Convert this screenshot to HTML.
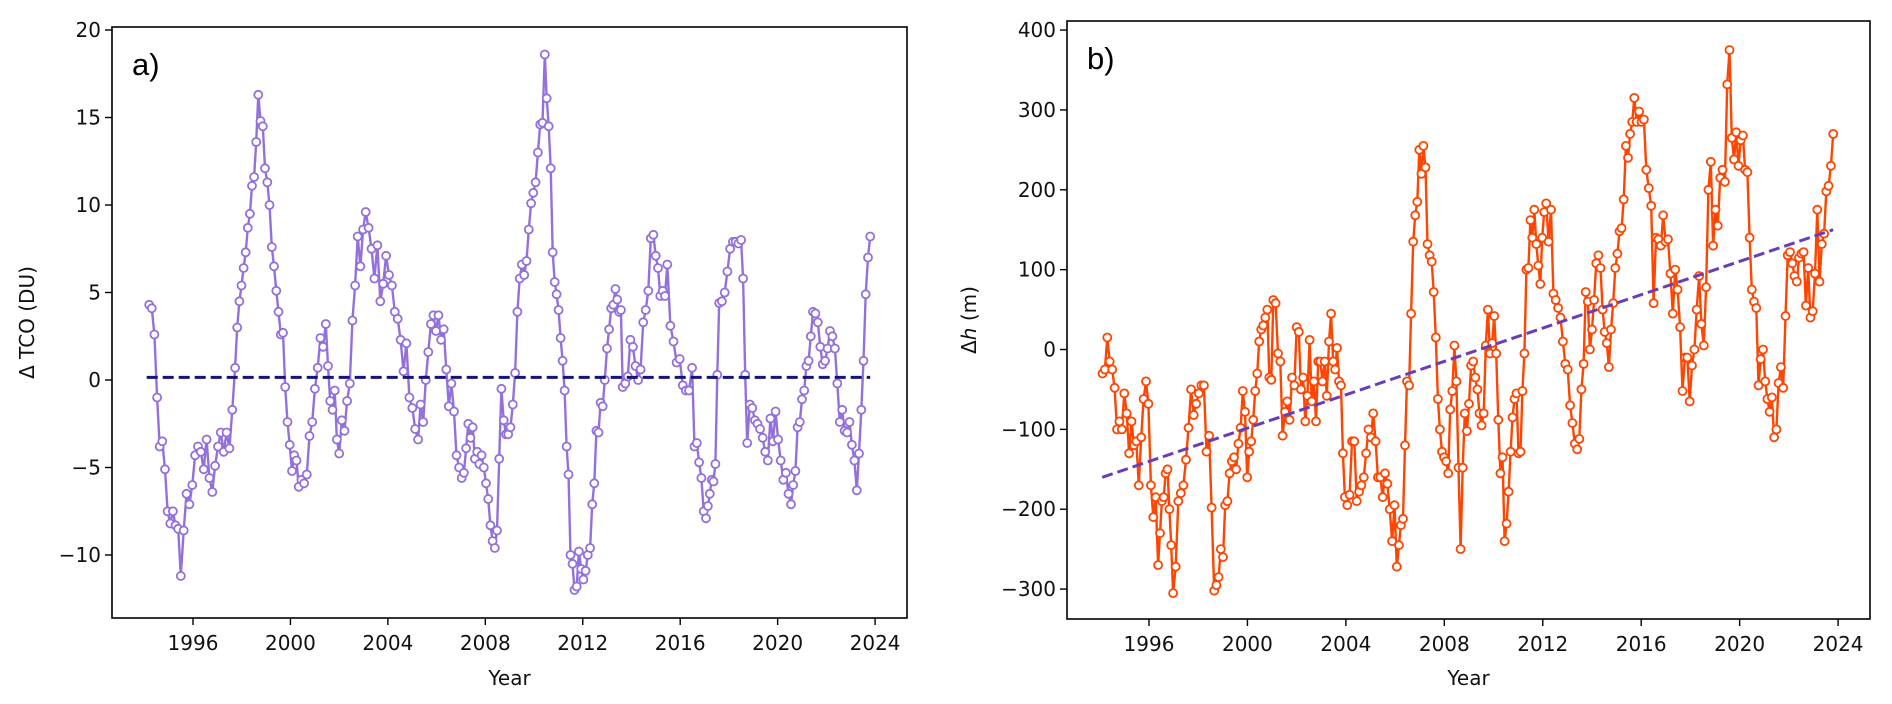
<!DOCTYPE html>
<html><head><meta charset="utf-8"><style>
html,body{margin:0;padding:0;background:#fff;}
svg{display:block;font-family:"DejaVu Sans","Liberation Sans",sans-serif;}
</style></head><body>
<svg id="fig" width="1892" height="704" viewBox="0 0 1892 704"></svg>
<script>
// ---- Panel a data (ΔTCO, DU) ----
const tcoValues = [4.3,4.1,2.6,-1,-3.8,-3.5,-5.1,-7.5,-8.2,-7.5,-8.3,-8.5,-11.2,
-8.6,-6.5,-7.1,-6,-4.3,-3.8,-4.1,-5.1,-3.4,-5.6,-6.4,-4.9,-3.8,-3.0,-4.1,-3.0,-3.9,-1.7,0.7,3.0,4.5,5.4,6.4,7.3,8.7,9.5,11.1,11.6,13.6,16.3,
14.8,14.5,12.1,11.3,10.0,7.6,6.5,5.1,3.9,2.6,2.7,-0.4,-2.4,-3.7,-5.2,-4.3,-4.6,-6.1,-5.7,-5.9,-5.4,-3.2,-2.4,-0.5,0.7,2.4,1.9,3.2,0.8,-1.2,-1.7,-0.6,-3.4,-4.2,-2.3,-2.9,-1.2,-0.2,3.4,5.4,8.2,6.5,8.6,9.6,
8.7,7.5,5.8,7.7,4.5,5.5,7.1,6.0,5.4,3.9,3.5,2.3,0.5,2.1,-1.0,-1.6,-2.8,-3.4,-1.4,-2.4,0.0,1.6,3.2,3.7,2.8,3.7,2.3,2.9,0.6,-1.5,-0.2,-1.8,-4.3,-5.0,-5.6,-5.3,-3.9,-2.5,-3.3,-2.7,-4.5,-4.1,-4.8,-4.3,-5.0,-5.9,-6.8,-8.3,-9.2,-9.6,-8.6,-4.5,-0.5,
-2.3,-3.1,-3.1,-2.7,-1.4,0.4,3.9,5.8,6.6,6.0,6.8,8.6,10.1,10.7,11.3,13.0,14.6,14.7,18.6,
16.1,14.5,12.1,7.3,5.6,4.9,4.0,2.4,1.1,-0.6,-3.8,-5.4,-10.0,-10.5,-12.0,-11.8,-9.8,-10.8,-11.4,-10.9,-10.0,-9.6,-7.1,-5.9,-2.9,-3.0,-1.3,-1.5,0.0,1.8,2.9,4.1,4.3,5.2,4.6,3.9,4.0,-0.4,-0.2,0.2,2.3,1.9,0.8,0.0,0.6,3.3,4.0,5.1,8.1,8.3,
7.1,6.4,4.8,5.1,4.8,6.6,3.1,2.2,1.0,1.2,-0.3,-0.6,-0.6,0.7,-3.8,-3.6,-4.7,-5.6,-7.5,-7.9,-7.2,-6.5,-5.7,-5.8,-4.8,0.3,4.4,4.5,5.0,6.2,7.5,7.9,7.9,7.8,8.0,5.8,0.3,-3.6,-1.4,-1.6,-2.3,-2.5,-2.8,-3.3,-4.1,-4.6,-2.2,-3.5,-1.8,-3.4,-4.6,-5.7,-5.3,-6.5,-7.1,-6.0,-5.2,-2.7,-2.4,-1.1,-0.6,0.8,1.1,2.5,3.9,3.8,3.3,1.9,0.9,1.1,1.8,2.8,2.5,1.8,-0.2,-2.4,-1.7,-2.9,-3.0,-2.4,-3.7,-4.6,-6.3,-4.2,-1.7,1.1,4.9,7.0,8.2];
// time anchors [point index, decimal year]
const tcoAnchors = [[0,1994.2],[12,1995.5],[31,1997.73],[42,1998.68],[60,2000.34],[70,2001.45],[76,2002.0],[86,2003.09],[104,2005.24],[112,2006.08],[121,2007.03],[136,2008.39],[139,2008.66],[158,2010.44],[173,2011.66],[180,2012.3],[192,2013.34],[196,2013.64],[208,2014.9],[214,2015.47],[222,2016.49],[228,2017.06],[235,2017.6],[243,2018.5],[246,2018.75],[263,2020.55],[273,2021.45],[291,2023.25],[297,2023.8]];
const tcoTrendYears = [1994.1, 2023.8];
const tcoTrendValues = [0.15, 0.15];
const tcoTicksY = [-10,-5,0,5,10,15,20];

// ---- Panel b data (Δh, m) ----
const dhValues = [-30,-25,15,-15,-25,-48,-100,-90,-100,-55,-80,-130,-90,-120,-115,-170,-110,-62,-40,-68,-170,-210,-185,-270,
-230,-190,-185,-155,-150,-200,-245,-305,-272,-190,-180,-170,-138,-98,-50,-82,-68,-55,-45,-45,-128,-108,-198,-302,
-295,-285,-250,-260,-195,-190,-155,-140,-135,-150,-118,-98,-52,-78,-160,-128,-115,-88,-52,-30,10,25,30,40,50,-35,-38,62,
58,-5,-15,-108,-78,-65,-88,-35,-45,28,22,-50,-35,-90,-58,12,-65,-40,-90,-15,-15,-40,-15,-58,10,45,-15,-25,2,-40,-45,-130,-185,
-195,-182,-115,-115,-190,-178,-170,-160,-130,-100,-110,-80,-115,-160,-160,-185,-155,-168,-200,-240,-195,-272,-245,-220,-212,-120,-40,-45,45,135,168,185,250,220,255,
228,132,118,110,72,15,-62,-100,-128,-135,-140,-155,-75,-52,5,-40,-148,-250,-148,-80,-102,-68,-20,-15,-35,-50,-80,-95,-80,5,50,
-5,8,42,-5,-88,-155,-135,-240,-218,-178,-128,-85,-62,-55,-130,-128,-52,-5,100,102,162,140,175,132,105,82,140,172,183,
135,175,70,62,52,40,10,-18,-25,-70,-92,-118,-125,-112,-50,-18,72,60,0,25,62,108,118,102,50,22,8,-22,25,58,102,120,148,152,188,255,240,270,285,315,
285,298,285,288,225,202,180,58,140,138,130,168,135,138,95,45,100,75,28,-52,-10,-10,-65,-20,0,50,92,32,5,78,200,235,130,175,155,215,225,210,332,375,
265,238,272,230,262,268,225,222,140,75,60,52,-45,-12,0,-40,-62,-78,-60,-110,-100,-42,-22,-48,42,118,122,108,92,85,115,120,122,55,102,40,48,95,175,85,132,145,198,205,230,270];
const dhAnchors = [[0,1994.11],[23,1996.37],[31,1996.98],[47,1998.65],[62,1999.99],[75,2001.05],[85,2002.0],[101,2003.4],[108,2003.96],[130,2006.07],[143,2007.15],[161,2008.66],[174,2009.77],[182,2010.45],[203,2012.14],[216,2013.4],[243,2015.72],[266,2017.97],[283,2019.59],[303,2021.4],[329,2023.8]];
const dhTrendYears = [1994.1, 2023.8];
const dhTrendValues = [-160, 150];
const dhTicksY = [-300,-200,-100,0,100,200,300,400];

const yearTicks = [1996,2000,2004,2008,2012,2016,2020,2024];

const NS = "http://www.w3.org/2000/svg";
const svg = document.getElementById('fig');
function mk(tag, attrs, parent){
  const e = document.createElementNS(NS, tag);
  for (const k in attrs) e.setAttribute(k, attrs[k]);
  (parent||svg).appendChild(e);
  return e;
}
function yearsFromAnchors(n, anchors){
  const out = [];
  for (let i=0;i<n;i++){
    let k=0;
    while (k < anchors.length-2 && i > anchors[k+1][0]) k++;
    const a=anchors[k], b=anchors[k+1];
    out.push(a[1] + (b[1]-a[1])*(i-a[0])/(b[0]-a[0]));
  }
  return out;
}

function panel(cfg){
  const g = mk('g', {});
  
  
  const xS = yr => cfg.x1996 + (yr-1996)*cfg.pxYear;
  const yS = v => cfg.y0 - v*cfg.pxUnit;
  const yrs = yearsFromAnchors(cfg.values.length, cfg.anchors);
  const pts = cfg.values.map((v,i)=> xS(yrs[i]).toFixed(1)+','+yS(v).toFixed(1)).join(' ');
  const line = mk('polyline', {points:pts, fill:'none', stroke:cfg.color, 'stroke-width':2.4, 'stroke-linejoin':'round'}, g);
  
  
  const mg = mk('g', {}, g);
  
  
  cfg.values.forEach((v,i)=>{
    const c = mk('circle', {cx:xS(yrs[i]).toFixed(1), cy:yS(v).toFixed(1), r:4, fill:'#fff', stroke:cfg.color, 'stroke-width':1.8}, mg);
    
    
  });
  const tl = mk('line', {x1:xS(cfg.trendX[0]), y1:yS(cfg.trendY[0]), x2:xS(cfg.trendX[1]), y2:yS(cfg.trendY[1]), stroke:cfg.trendColor, 'stroke-width':3, 'stroke-dasharray':'11,5'}, g);
  
  
  const fr = mk('rect', {x:cfg.L, y:cfg.T, width:cfg.R-cfg.L, height:cfg.B-cfg.T, fill:'none', stroke:'#000', 'stroke-width':1.6}, g);
  
  
  cfg.ticksY.forEach(t=>{
    const y = yS(t);
    const tk = mk('line', {x1:cfg.L-7, y1:y, x2:cfg.L, y2:y, stroke:'#000', 'stroke-width':1.4}, g);
    
    
    const tx = mk('text', {x:cfg.L-11, y:y+7, 'text-anchor':'end', 'font-size':20, fill:'#111'}, g);
    tx.textContent = t<0 ? '\u2212'+Math.abs(t) : String(t);
    
    
  });
  yearTicks.forEach(t=>{
    const x = xS(t);
    const tk = mk('line', {x1:x, y1:cfg.B, x2:x, y2:cfg.B+7, stroke:'#000', 'stroke-width':1.4}, g);
    
    
    const tx = mk('text', {x:x, y:cfg.B+32, 'text-anchor':'middle', 'font-size':20, fill:'#111'}, g);
    tx.textContent = String(t);
    
    
  });
  const xl = mk('text', {x:(cfg.L+cfg.R)/2, y:685, 'text-anchor':'middle', 'font-size':20, fill:'#111'}, g);
  xl.textContent = 'Year';
  
  
  const yl = mk('text', {x:0, y:0, 'text-anchor':'middle', 'font-size':20, fill:'#111', transform:'translate('+cfg.ylX+','+((cfg.T+cfg.B)/2)+') rotate(-90)'}, g);
  yl.innerHTML = cfg.ylabel;
  
  
  const pl = mk('text', {x:cfg.L+20, y:cfg.T+48, 'font-size':31, fill:'#000', 'font-family':'"Liberation Sans",sans-serif'}, g);
  pl.textContent = cfg.tag;
  
  
}

panel({name:'panel-a-tco', L:112, R:907, T:27, B:618, x1996:193, pxYear:24.36, y0:380, pxUnit:17.5,
  values:tcoValues, anchors:tcoAnchors, color:'#9370DB', trendX:tcoTrendYears, trendY:tcoTrendValues, trendColor:'#14147a',
  ticksY:tcoTicksY, ylabel:'\u0394 TCO (DU)', ylX:34, tag:'a)'});
panel({name:'panel-b-dh', L:1067, R:1870, T:21, B:619, x1996:1149, pxYear:24.61, y0:349.5, pxUnit:0.7986,
  values:dhValues, anchors:dhAnchors, color:'#FF4500', trendX:dhTrendYears, trendY:dhTrendValues, trendColor:'#6a3db8',
  ticksY:dhTicksY, ylabel:'\u0394<tspan font-style="italic">h</tspan> (m)', ylX:976, tag:'b)'});
</script>
</body></html>
